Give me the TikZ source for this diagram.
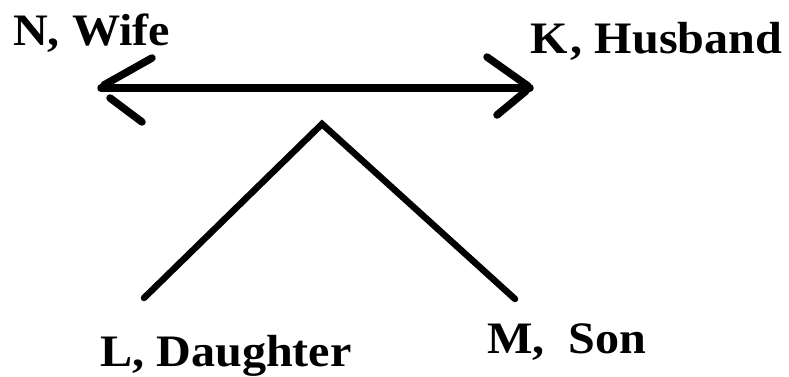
\documentclass[tikz,border=0pt]{standalone}
\usepackage{fontspec}
\setmainfont{Liberation Serif}
\usetikzlibrary{calc}
\tikzset{
  lbl/.style={inner sep=0pt, anchor=base west,
    font=\fontsize{45}{50}\selectfont\bfseries},
  pen/.style={line width=7.5pt, line cap=round, line join=round},
  legpen/.style={line width=6.5pt, line cap=round, line join=miter}
}
\newcommand{\widelbl}[1]{\scalebox{1.07}[1]{#1}}
\begin{document}
\begin{tikzpicture}[x=1pt, y=-1pt]
  \useasboundingbox (0,0) rectangle (789,377);

  % family members
  \node[lbl] (wife)     at (13,46)  {\widelbl{N, Wife}};
  \node[lbl] (husband)  at (530,54) {\widelbl{K{\kern3pt}, Husband}};
  \node[lbl] (daughter) at (100,366) {\widelbl{L, Daughter}};
  \node[lbl] (son)      at (487,353) {\widelbl{M,\ \ Son}};

  % ends of the marriage arrow and the children's branch
  \coordinate (wtip) at (101,88);
  \coordinate (htip) at (530,88);
  \coordinate (apex) at (322,124);
  \coordinate (dfoot) at (144,298);
  \coordinate (sfoot) at (515,299);

  % marriage arrow with hand-drawn barbs
  \draw[pen] (wtip) -- (htip);
  \draw[pen] ($(wtip)+(51,-30)$) -- ($(wtip)+(3,-3)$);
  \draw[pen] ($(wtip)+(9,10)$) -- ($(wtip)+(41,34)$);
  \draw[pen] ($(htip)+(-43,-31)$) -- ($(htip)+(-2,-2)$);
  \draw[pen] ($(htip)+(-33,27)$) -- ($(htip)+(-4,3)$);

  % children
  \draw[legpen] (dfoot) -- (apex) -- (sfoot);
\end{tikzpicture}
\end{document}
